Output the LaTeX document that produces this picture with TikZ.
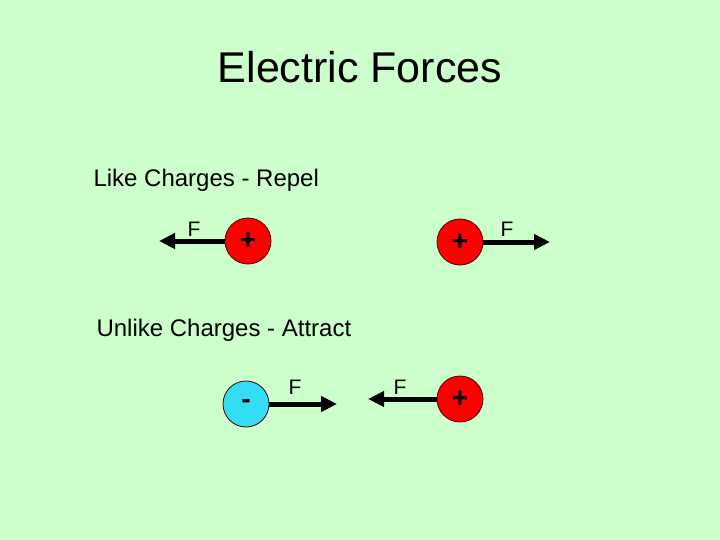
\documentclass[tikz,border=0pt]{standalone}
\usepackage{fontspec}
\setmainfont{Liberation Sans}
\usetikzlibrary{arrows.meta}
\definecolor{bg}{RGB}{204,255,204}
\definecolor{pos}{RGB}{255,0,0}
\definecolor{neg}{RGB}{51,221,245}
\tikzset{
  charge/.style={circle,draw=black!70!red,line width=0.8pt,minimum size=46pt,inner sep=0pt,font=\fontsize{28}{28}\selectfont\bfseries},
  force/.style={line width=5pt,-{Triangle[length=16pt,width=15pt]}},
  flabel/.style={font=\fontsize{21}{21}\selectfont},
  heading/.style={font=\fontsize{24}{24}\selectfont,anchor=west},
}
\begin{document}
\begin{tikzpicture}[x=1pt,y=-1pt]
\fill[bg] (0,0) rectangle (720,540);
\useasboundingbox (0,0) rectangle (720,540);
\node[font=\fontsize{43}{43}\selectfont] (title) at (360,67) {Electric Forces};
\node[heading] (like) at (90,180) {Like Charges - Repel};
\node[heading] (unlike) at (93,330) {Unlike Charges - Attract};
% like charges
\node[charge,fill=pos] (p1) at (248,241) {+};
\node[charge,fill=pos] (p2) at (460,242) {+};
\coordinate (t1) at (159,241);
\coordinate (t2) at (550,242);
\draw[force] (p1.west) -- (t1);
\draw[force] (p2.east) -- (t2);
\node[flabel] (f1) at (194,229) {F};
\node[flabel] (f2) at (507,229) {F};
% unlike charges
\node[charge,fill=neg] (n3) at (246,404) {-};
\node[charge,fill=pos] (p4) at (460,399) {+};
\coordinate (t3) at (337,404);
\coordinate (t4) at (368,399);
\draw[force] (n3.east) -- (t3);
\draw[force] (p4.west) -- (t4);
\node[flabel] (f3) at (295,387) {F};
\node[flabel] (f4) at (400,387) {F};
\end{tikzpicture}
\end{document}
